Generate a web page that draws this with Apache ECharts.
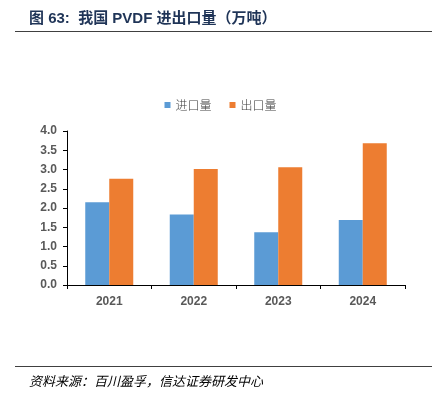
<!DOCTYPE html>
<html><head><meta charset="utf-8">
<script src="https://cdn.jsdelivr.net/npm/echarts@6/dist/echarts.min.js"></script>
<style>html,body{margin:0;padding:0;background:#fff;}#c{width:441px;height:398px;}</style>
</head><body><div id="c"></div>
<script>
const categories = ['2021', '2022', '2023', '2024'];
const importVals = [2.15, 1.83, 1.37, 1.69];
const exportVals = [2.76, 3.01, 3.06, 3.68];
const yTicks = [0, 0.5, 1, 1.5, 2, 2.5, 3, 3.5, 4];
const seriesNames = ['进口量', '出口量'];
const titleText = '图 63:  我国 PVDF 进出口量（万吨）';
const sourceText = '资料来源：百川盈孚，信达证券研发中心';

const chart = echarts.init(document.getElementById('c'), null, {renderer: 'canvas'});
chart.setOption({
  backgroundColor: '#fff',
  animation: false,
  title: [{
    text: titleText, left: 24, top: 6,
    textStyle: {fontFamily: 'Liberation Sans, Noto Sans CJK SC, sans-serif', fontSize: 15, fontWeight: 'bold', color: '#1f3457'}
  }, {
    text: sourceText, left: 24, top: 370,
    textStyle: {fontFamily: 'Noto Sans CJK SC, sans-serif', fontSize: 13, fontWeight: 'normal', fontStyle: 'italic', color: '#000'}
  }],
  graphic: [
    {type: 'line', shape: {x1: 15, y1: 31.5, x2: 432, y2: 31.5}, style: {stroke: '#404040', lineWidth: 1}},
    {type: 'line', shape: {x1: 15, y1: 366.5, x2: 432, y2: 366.5}, style: {stroke: '#404040', lineWidth: 1}}
  ],
  legend: {
    data: seriesNames, top: 94, left: 'center', itemWidth: 6, itemHeight: 6, itemGap: 18,
    icon: 'rect',
    textStyle: {fontFamily: 'Noto Sans CJK SC, sans-serif', fontSize: 12, fontWeight: 300, color: '#404040', padding: [0, 0, 0, 0]}
  },
  grid: {left: 67, right: 36, top: 131, bottom: 113},
  xAxis: {
    type: 'category', data: categories,
    axisLine: {lineStyle: {color: '#000', width: 1}},
    axisTick: {show: true, length: 4, lineStyle: {color: '#000'}},
    axisLabel: {margin: 11, fontSize: 12, fontWeight: 'bold', color: '#595959', fontFamily: 'Liberation Sans, sans-serif'}
  },
  yAxis: {
    type: 'value', min: 0, max: 4, interval: 0.5,
    axisLine: {show: true, lineStyle: {color: '#000', width: 1}},
    axisTick: {show: true, length: 4, lineStyle: {color: '#000'}},
    splitLine: {show: false},
    axisLabel: {margin: 10, fontSize: 12, fontWeight: 'bold', color: '#595959', fontFamily: 'Liberation Sans, sans-serif',
      formatter: v => yTicks.indexOf(v) >= 0 ? v.toFixed(1) : ''}
  },
  series: [
    {name: seriesNames[0], type: 'bar', data: importVals, barWidth: 24, barGap: '0%', itemStyle: {color: '#5b9bd5'}},
    {name: seriesNames[1], type: 'bar', data: exportVals, barWidth: 24, barGap: '0%', itemStyle: {color: '#ed7d31'}}
  ]
});
</script></body></html>
